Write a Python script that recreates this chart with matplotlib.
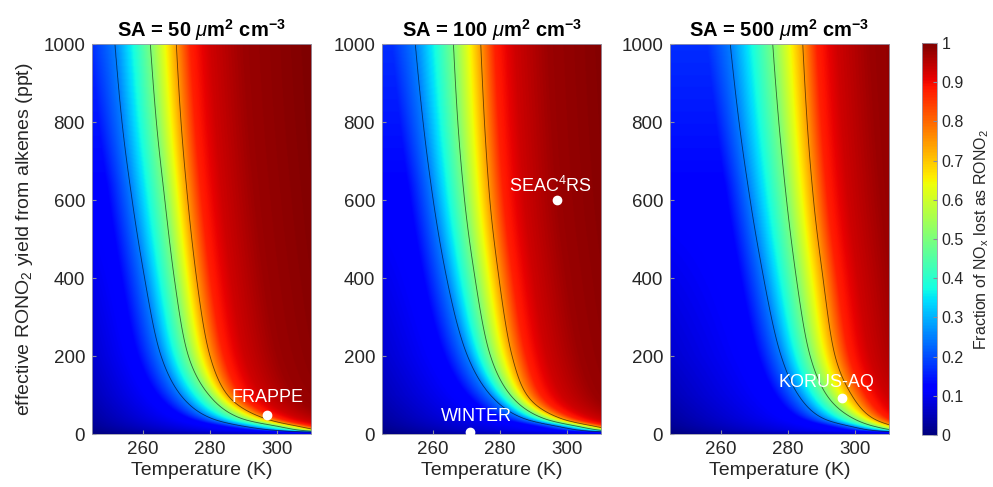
import numpy as np
import matplotlib
matplotlib.use("Agg")
import matplotlib.pyplot as plt

plt.rcParams['font.family'] = ['Liberation Sans', 'DejaVu Sans']
plt.rcParams['mathtext.fontset'] = 'custom'
plt.rcParams['mathtext.rm'] = 'Liberation Sans'
plt.rcParams['mathtext.it'] = 'Liberation Sans:italic'
plt.rcParams['mathtext.bf'] = 'Liberation Sans:bold'
plt.rcParams['mathtext.default'] = 'regular'

# ---- values ----
sa_values = [50, 100, 500]

# temperature (K) where the 0.25 / 0.5 / 0.75 isolines cross each yield row (ppt)
yield_rows = [2, 8, 20, 40, 100, 200, 400, 600, 800, 1000]

t25_sa50 = [330, 302, 290, 280.5, 271.3, 265.5, 260.6, 256.9, 253.9, 251.8]
t50_sa50 = [340, 309, 300, 289.3, 279.7, 273.6, 269.4, 266.6, 264.1, 262.3]
t75_sa50 = [350, 315, 306, 296.2, 285.2, 280.0, 276.0, 273.4, 271.4, 270.0]

t25_sa100 = [330, 306, 297, 287.1, 277.2, 270.4, 264.2, 260.2, 257.2, 254.9]
t50_sa100 = [340, 312, 302.9, 293.0, 283.1, 277.2, 272.6, 269.5, 267.5, 266.2]
t75_sa100 = [350, 317, 307.9, 298.0, 288.0, 283.6, 279.7, 277.0, 275.4, 274.3]

t25_sa500 = [335, 307, 298.5, 290.5, 283.1, 278.0, 272.8, 268.8, 265.5, 262.9]
t50_sa500 = [345, 314, 305.5, 299.4, 291.5, 286.6, 282.5, 279.6, 277.3, 275.5]
t75_sa500 = [355, 319, 311.5, 305.3, 298.9, 294.0, 290.4, 287.6, 285.7, 284.4]

# fraction seen at the cold edge (245 K) for each yield
edge_yield = [0, 8, 20, 40, 100, 200, 400, 600, 1000]
edge_frac = [0.0, 0.01, 0.02, 0.03, 0.05, 0.07, 0.095, 0.12, 0.17]

# warm tail: K above the 0.75 isoline and the fraction there
warm_offset = [4, 10, 20, 40]
warm_frac = [0.875, 0.93, 0.975, 1.0]

# campaign points
campaigns = ['FRAPPE', 'WINTER', 'SEAC$^4$RS', 'KORUS-AQ']
campaign_panel = [0, 1, 1, 2]
campaign_temp = [297, 271, 297, 296]
campaign_yield = [50, 5, 600, 93]
label_offset = [(0, 12), (5, 11), (-5, 10), (-11, 11)]

T = np.linspace(245, 310, 400)
Y = np.linspace(0, 1000, 600)


def pchip(x, xp, fp):
    # monotone cubic through the read rows, so the isolines bend smoothly
    xp = np.asarray(xp, float)
    fp = np.asarray(fp, float)
    h = np.diff(xp)
    d = np.diff(fp) / h
    m = np.zeros_like(fp)
    for k in range(1, len(xp) - 1):
        if d[k - 1] * d[k] > 0:
            w1 = 2 * h[k] + h[k - 1]
            w2 = h[k] + 2 * h[k - 1]
            m[k] = (w1 + w2) / (w1 / d[k - 1] + w2 / d[k])
    m[0] = d[0]
    m[-1] = d[-1]
    x = np.clip(x, xp[0], xp[-1])
    i = np.clip(np.searchsorted(xp, x) - 1, 0, len(h) - 1)
    t = (x - xp[i]) / h[i]
    h00 = 2 * t**3 - 3 * t**2 + 1
    h10 = t**3 - 2 * t**2 + t
    h01 = -2 * t**3 + 3 * t**2
    h11 = t**3 - t**2
    return h00 * fp[i] + h10 * h[i] * m[i] + h01 * fp[i + 1] + h11 * h[i] * m[i + 1]


def build_field(t25, t50, t75):
    F = np.zeros((len(Y), len(T)))
    lr = np.log(yield_rows)
    ly = np.log(np.maximum(Y, yield_rows[0]))
    A = pchip(ly, lr, t25)
    B = pchip(ly, lr, t50)
    C = pchip(ly, lr, t75)
    FL = np.interp(Y, edge_yield, edge_frac)
    for i in range(len(Y)):
        a, b, c, fl = A[i], B[i], C[i], FL[i]
        kt = np.array([245, a - 7, a, b, c] + [c + o for o in warm_offset])
        kf = np.array([fl, max(0.125, fl), 0.25, 0.5, 0.75] + warm_frac)
        keep = np.r_[True, kt[1:] > 245]
        F[i] = np.interp(T, kt[keep], kf[keep])
    return F


fields = [build_field(t25_sa50, t50_sa50, t75_sa50),
          build_field(t25_sa100, t50_sa100, t75_sa100),
          build_field(t25_sa500, t50_sa500, t75_sa500)]

fig = plt.figure(figsize=(9.93, 4.87), dpi=100)
lefts = [0.0927, 0.3847, 0.6747]
axes = [fig.add_axes([l, 0.1088, 0.2206, 0.8008]) for l in lefts]
cax = fig.add_axes([0.9285, 0.1068, 0.0151, 0.805])

txt = '#262626'
for k, ax in enumerate(axes):
    im = ax.imshow(fields[k], extent=[245, 310, 0, 1000], origin='lower',
                   aspect='auto', cmap='jet', vmin=0, vmax=1,
                   interpolation='bilinear')
    ax.contour(T, Y, fields[k], levels=[0.25, 0.5, 0.75], colors='k',
               linewidths=0.6, alpha=0.6)
    ax.set_xlim(245, 310)
    ax.set_ylim(0, 1000)
    ax.set_xticks([260, 280, 300])
    ax.set_yticks(np.arange(0, 1001, 200))
    ax.tick_params(direction='in', length=3, labelsize=13.5, colors=txt,
                   color='#8c8c9c', pad=5)
    for s in ax.spines.values():
        s.set_color('#9a9aaa')
        s.set_linewidth(0.6)
    ax.set_xlabel('Temperature (K)', fontsize=14, color=txt, labelpad=3)
    ax.set_title(r'SA = %d $\mathit{\mu}$m$^{\mathbf{2}}$ cm$^{\mathbf{-3}}$' % sa_values[k],
                 fontsize=14.5, fontweight='bold', pad=5)

axes[0].set_ylabel('effective RONO$_2$ yield from alkenes (ppt)', fontsize=14,
                   color=txt, labelpad=6)

for name, p, tx, yy, off in zip(campaigns, campaign_panel, campaign_temp,
                                campaign_yield, label_offset):
    ax = axes[p]
    ax.plot(tx, yy, 'o', color='white', ms=6, clip_on=False, zorder=5)
    ax.annotate(name, (tx, yy), xytext=off, textcoords='offset points',
                ha='center', va='center', color='white', fontsize=13, zorder=6)

cb = fig.colorbar(im, cax=cax, ticks=np.arange(0, 1.01, 0.1))
cb.ax.set_yticklabels(['%g' % v for v in np.round(np.arange(0, 1.01, 0.1), 1)])
cb.ax.tick_params(labelsize=11.5, colors=txt, color='#8c8c9c', direction='in', length=3)
cb.outline.set_edgecolor('#9a9aaa')
cb.outline.set_linewidth(0.6)
cb.set_label('Fraction of NO$_x$ lost as RONO$_2$', fontsize=11.5, color=txt, labelpad=6)

fig.savefig('out.png', dpi=100)
